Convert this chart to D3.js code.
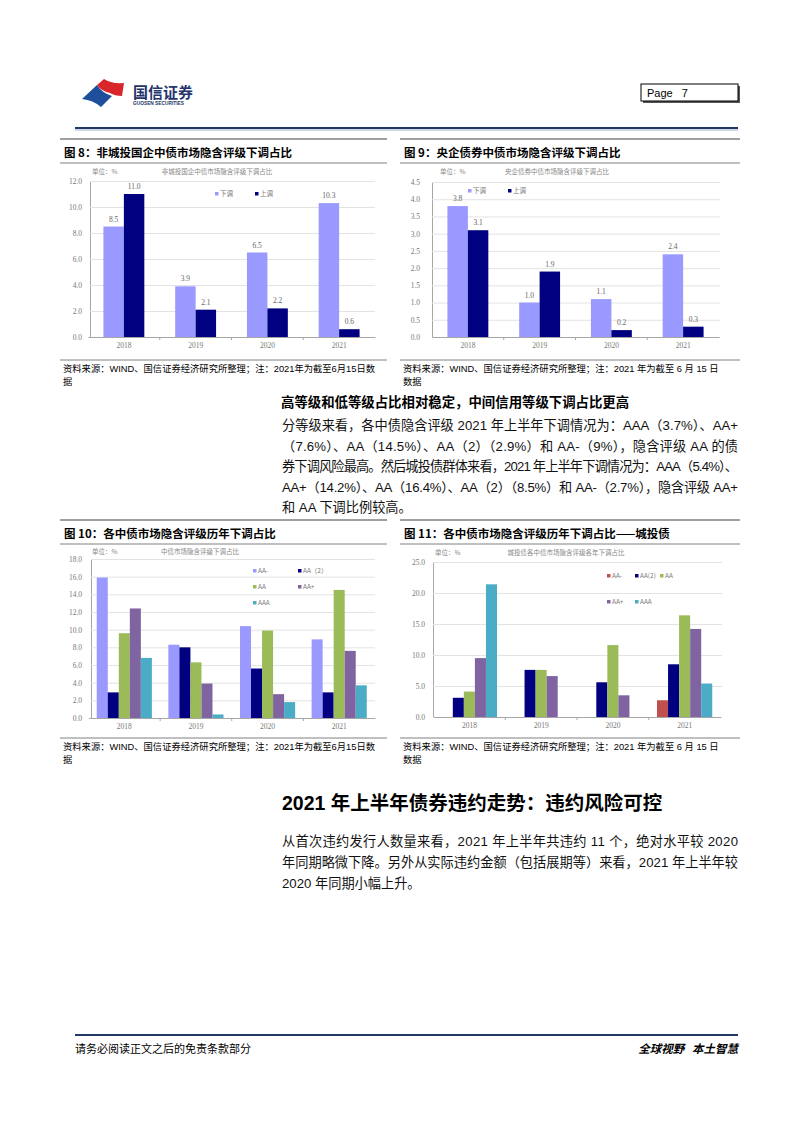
<!DOCTYPE html>
<html><head><meta charset="utf-8">
<script src="https://cdn.jsdelivr.net/npm/d3@7/dist/d3.min.js"></script>
<style>
html,body{margin:0;padding:0;background:#fff;}
svg{display:block;}
</style></head>
<body>
<svg id="page" width="802" height="1133"></svg>
<script>
// ---------------- DATA ----------------
const years = ["2018", "2019", "2020", "2021"];

// Figure 8: 非城投国企
const fig8Down = [8.5, 3.9, 6.5, 10.3];
const fig8Up = [11.0, 2.1, 2.2, 0.6];
const fig8Ticks = [0, 2, 4, 6, 8, 10, 12];

// Figure 9: 央企债券
const fig9Down = [3.8, 1.0, 1.1, 2.4];
const fig9Up = [3.1, 1.9, 0.2, 0.3];
const fig9Ticks = [0, 0.5, 1, 1.5, 2, 2.5, 3, 3.5, 4, 4.5];

const updownNames = ["下调", "上调"];

// Figure 10: 各中债市场隐含评级
const ratingNames10 = ["AA-", "AA（2）", "AA", "AA+", "AAA"];
const fig10AAminus = [15.9, 8.3, 10.4, 8.9];
const fig10AA2 = [2.9, 8.0, 5.6, 2.9];
const fig10AA = [9.6, 6.3, 9.9, 14.5];
const fig10AAplus = [12.4, 3.9, 2.7, 7.6];
const fig10AAA = [6.8, 0.4, 1.8, 3.7];
const fig10Ticks = [0, 2, 4, 6, 8, 10, 12, 14, 16, 18];

// Figure 11: 城投债
const ratingNames11 = ["AA-", "AA(2)", "AA", "AA+", "AAA"];
const fig11AAminus = [0, 0, 0, 2.7];
const fig11AA2 = [3.1, 7.6, 5.6, 8.5];
const fig11AA = [4.1, 7.6, 11.6, 16.4];
const fig11AAplus = [9.5, 6.6, 3.5, 14.2];
const fig11AAA = [21.4, 0, 0, 5.4];
const fig11Ticks = [0, 5, 10, 15, 20, 25];

// ---------------- STYLE ----------------
const CJK = "'Noto Sans CJK SC', sans-serif";
const BODY = "'Liberation Sans', 'Noto Sans CJK SC', sans-serif";
const TINY = "'Liberation Serif', 'Noto Sans CJK SC', serif";
const C = {
  light: "#9999FF", navy: "#000080", green: "#9BBB59",
  purple: "#8064A2", teal: "#4BACC6", red: "#C0504D"
};

const svg = d3.select("#page");
svg.append("rect").attr("width", 802).attr("height", 1133).attr("fill", "#fff");

// ---------------- HEADER ----------------
const hdr = svg.append("g");
hdr.append("path")
  .attr("d", "M82,99 L97,85 Q102,93 112,96 L101,107 Q93,100 82,99 Z")
  .attr("fill", "#1F4E9A");
hdr.append("path")
  .attr("d", "M97,85 L104,79 Q111,84 124,83 L122,96 Q115,96 110,93 Q101,91 97,85 Z")
  .attr("fill", "#D9262B");
hdr.append("text").attr("x", 133).attr("y", 98)
  .attr("font-family", CJK).attr("font-weight", 700).attr("font-size", 15)
  .attr("fill", "#24346B").text("国信证券");
hdr.append("text").attr("x", 133).attr("y", 105)
  .attr("font-family", BODY).attr("font-weight", 700).attr("font-size", 4.8)
  .attr("fill", "#24346B").text("GUOSEN SECURITIES");
hdr.append("rect").attr("x", 643).attr("y", 86).attr("width", 97).attr("height", 17).attr("fill", "#555");
hdr.append("rect").attr("x", 641).attr("y", 84).attr("width", 97).attr("height", 17)
  .attr("fill", "#fff").attr("stroke", "#000").attr("stroke-width", 1);
hdr.append("text").attr("x", 647).attr("y", 97).attr("font-family", BODY).attr("font-size", 11)
  .attr("fill", "#000").attr("xml:space", "preserve").text("Page   7");
hdr.append("line").attr("x1", 75).attr("x2", 738).attr("y1", 128).attr("y2", 128)
  .attr("stroke", "#1F3864").attr("stroke-width", 2.2);
hdr.append("line").attr("x1", 75).attr("x2", 738).attr("y1", 130).attr("y2", 130)
  .attr("stroke", "#8EA0C0").attr("stroke-width", 0.8);

// ---------------- PANEL FRAME ----------------
function panel(p) {
  const g = svg.append("g");
  g.append("line").attr("x1", p.x0).attr("x2", p.x1).attr("y1", p.top).attr("y2", p.top)
    .attr("stroke", "#808080").attr("stroke-width", 1.5);
  g.append("text").attr("x", p.x0 + 4).attr("y", p.top + 18)
    .attr("font-family", CJK).attr("font-weight", 700).attr("font-size", 11.5)
    .attr("fill", "#000").text(p.title);
  g.append("line").attr("x1", p.x0).attr("x2", p.x1).attr("y1", p.top + 24).attr("y2", p.top + 24)
    .attr("stroke", "#808080").attr("stroke-width", 1);
  g.append("line").attr("x1", p.x0).attr("x2", p.x1).attr("y1", p.srcY).attr("y2", p.srcY)
    .attr("stroke", "#808080").attr("stroke-width", 1);
  p.source.forEach((s, i) => {
    g.append("text").attr("x", p.x0 + 3).attr("y", p.srcY + 12 + i * 12.5)
      .attr("font-family", BODY).attr("font-size", 9.3).attr("fill", "#000").text(s);
  });
}

// ---------------- BAR CHART ----------------
function barChart(o) {
  const g = svg.append("g");
  const y = d3.scaleLinear().domain([0, o.yMax]).range([o.yBottom, o.yTop]);
  const xb = d3.scaleBand().domain(years).range([o.bandL, o.bandR]).padding(0);
  const bw = xb.bandwidth();
  const xs = d3.scaleBand().domain(d3.range(o.series.length))
    .range([bw * (1 - o.groupFrac) / 2, bw * (1 + o.groupFrac) / 2]).padding(0);

  // gridlines + y labels via axis
  const ya = g.append("g").attr("transform", `translate(${o.axisX},0)`)
    .call(d3.axisLeft(y).tickValues(o.ticks).tickFormat(d3.format(".1f"))
      .tickSize(-(o.right - o.axisX)).tickSizeOuter(0).tickPadding(o.labelPad));
  ya.select(".domain").attr("stroke", "#A6A6A6").attr("stroke-width", 1);
  ya.selectAll(".tick line").attr("stroke", "#E3E3E3").attr("stroke-width", 1);
  ya.selectAll(".tick text").attr("font-family", TINY).attr("font-size", 7.5).attr("fill", "#777");

  // bars
  o.series.forEach((s, si) => {
    g.append("g").selectAll("rect").data(s.values.map((v, i) => ({ v, yr: years[i] })))
      .join("rect")
      .attr("x", d => xb(d.yr) + xs(si))
      .attr("y", d => y(d.v))
      .attr("width", xs.bandwidth())
      .attr("height", d => o.yBottom - y(d.v))
      .attr("fill", s.color);
    if (o.valueLabels) {
      g.append("g").selectAll("text").data(s.values.map((v, i) => ({ v, yr: years[i] })))
        .join("text")
        .attr("x", d => xb(d.yr) + xs(si) + xs.bandwidth() / 2)
        .attr("y", d => y(d.v) - 5)
        .attr("text-anchor", "middle")
        .attr("font-family", TINY).attr("font-size", 7.5).attr("fill", "#666")
        .text(d => d3.format(".1f")(d.v));
    }
  });

  // x axis
  const xa = g.append("g").attr("transform", `translate(0,${o.yBottom})`)
    .call(d3.axisBottom(xb).tickSize(0).tickPadding(6));
  xa.select(".domain").attr("stroke", "#A6A6A6");
  xa.selectAll(".tick text").attr("font-family", TINY).attr("font-size", 7.5).attr("fill", "#777");
  g.append("g").selectAll("line").data(years.slice(1))
    .join("line")
    .attr("x1", d => xb(d)).attr("x2", d => xb(d))
    .attr("y1", o.yBottom).attr("y2", o.yBottom + 3)
    .attr("stroke", "#A6A6A6");

  // unit + inner title
  g.append("text").attr("x", o.unitX).attr("y", o.innerY)
    .attr("font-family", CJK).attr("font-size", 6.5).attr("fill", "#888").text("单位：%");
  g.append("text").attr("x", o.innerTitleX).attr("y", o.innerY).attr("text-anchor", "middle")
    .attr("font-family", CJK).attr("font-size", 6.5).attr("fill", "#888").text(o.innerTitle);

  // legend
  o.legend.forEach((l, i) => {
    const s = o.series[i];
    g.append("rect").attr("x", l[0]).attr("y", l[1] - 2).attr("width", 3.5).attr("height", 3.5)
      .attr("fill", s.color);
    g.append("text").attr("x", l[0] + 5).attr("y", l[1] + 2)
      .attr("font-family", CJK).attr("font-size", 6.5).attr("fill", "#777").text(s.name);
  });
}

// ---------------- FIGURE 8 ----------------
panel({ x0: 60, x1: 387, top: 139, srcY: 360,
  title: "图 8：非城投国企中债市场隐含评级下调占比",
  source: ["资料来源：WIND、国信证券经济研究所整理；注：2021年为截至6月15日数", "据"] });
barChart({
  axisX: 90, bandL: 88, bandR: 375, right: 375, yTop: 181, yBottom: 337,
  yMax: 12, ticks: fig8Ticks, labelPad: 8, groupFrac: 0.57, valueLabels: true,
  series: [{ name: updownNames[0], values: fig8Down, color: C.light },
           { name: updownNames[1], values: fig8Up, color: C.navy }],
  legend: [[215, 194], [255, 194]],
  unitX: 92, innerY: 174, innerTitleX: 217, innerTitle: "非城投国企中债市场隐含评级下调占比"
});

// ---------------- FIGURE 9 ----------------
panel({ x0: 400, x1: 740, top: 139, srcY: 360,
  title: "图 9：央企债券中债市场隐含评级下调占比",
  source: ["资料来源：WIND、国信证券经济研究所整理；注：2021 年为截至 6 月 15 日", "数据"] });
barChart({
  axisX: 432, bandL: 432, bandR: 719, right: 720, yTop: 182, yBottom: 337,
  yMax: 4.5, ticks: fig9Ticks, labelPad: 12, groupFrac: 0.57, valueLabels: true,
  series: [{ name: updownNames[0], values: fig9Down, color: C.light },
           { name: updownNames[1], values: fig9Up, color: C.navy }],
  legend: [[468, 191], [508, 191]],
  unitX: 440, innerY: 174, innerTitleX: 557, innerTitle: "央企债券中债市场隐含评级下调占比"
});

// ---------------- FIGURE 10 ----------------
panel({ x0: 60, x1: 387, top: 520, srcY: 738,
  title: "图 10：各中债市场隐含评级历年下调占比",
  source: ["资料来源：WIND、国信证券经济研究所整理；注：2021年为截至6月15日数", "据"] });
barChart({
  axisX: 91, bandL: 88.5, bandR: 375, right: 375, yTop: 559, yBottom: 718,
  yMax: 18, ticks: fig10Ticks, labelPad: 9, groupFrac: 0.77, valueLabels: false,
  series: [{ name: ratingNames10[0], values: fig10AAminus, color: C.light },
           { name: ratingNames10[1], values: fig10AA2, color: C.navy },
           { name: ratingNames10[2], values: fig10AA, color: C.green },
           { name: ratingNames10[3], values: fig10AAplus, color: C.purple },
           { name: ratingNames10[4], values: fig10AAA, color: C.teal }],
  legend: [[253, 571], [298, 571], [253, 587], [298, 587], [253, 603]],
  unitX: 92, innerY: 554, innerTitleX: 200, innerTitle: "中债市场隐含评级下调占比"
});

// ---------------- FIGURE 11 ----------------
panel({ x0: 400, x1: 740, top: 520, srcY: 738,
  title: "图 11：各中债市场隐含评级历年下调占比——城投债",
  source: ["资料来源：WIND、国信证券经济研究所整理；注：2021 年为截至 6 月 15 日", "数据"] });
barChart({
  axisX: 433, bandL: 433.5, bandR: 720.5, right: 722, yTop: 562, yBottom: 717,
  yMax: 25, ticks: fig11Ticks, labelPad: 8, groupFrac: 0.77, valueLabels: false,
  series: [{ name: ratingNames11[0], values: fig11AAminus, color: C.red },
           { name: ratingNames11[1], values: fig11AA2, color: C.navy },
           { name: ratingNames11[2], values: fig11AA, color: C.green },
           { name: ratingNames11[3], values: fig11AAplus, color: C.purple },
           { name: ratingNames11[4], values: fig11AAA, color: C.teal }],
  legend: [[607, 576], [635, 576], [660, 576], [607, 602], [635, 602]],
  unitX: 435, innerY: 555, innerTitleX: 566, innerTitle: "城投债各中债市场隐含评级各年下调占比"
});

// ---------------- TEXT ----------------
function para(lines, x, y0, lh, width, size) {
  lines.forEach((t, i) => {
    const tx = svg.append("text").attr("x", x).attr("y", y0 + i * lh)
      .attr("font-family", BODY).attr("font-size", size).attr("fill", "#111").text(t);
    if (i < lines.length - 1) tx.attr("textLength", width).attr("lengthAdjust", "spacing");
  });
}

svg.append("text").attr("x", 281).attr("y", 406.5)
  .attr("font-family", CJK).attr("font-weight", 700).attr("font-size", 13.4)
  .attr("fill", "#000").text("高等级和低等级占比相对稳定，中间信用等级下调占比更高");

para([
  "分等级来看，各中债隐含评级 2021 年上半年下调情况为：AAA（3.7%）、AA+",
  "（7.6%）、AA（14.5%）、AA（2）（2.9%）和 AA-（9%），隐含评级 AA 的债",
  "券下调风险最高。然后城投债群体来看，2021 年上半年下调情况为：AAA（5.4%）、",
  "AA+（14.2%）、AA（16.4%）、AA（2）（8.5%）和 AA-（2.7%），隐含评级 AA+",
  "和 AA 下调比例较高。"
], 282, 430, 20.5, 456, 13.2);

svg.append("text").attr("x", 282).attr("y", 810)
  .attr("font-family", "'Liberation Sans', 'Noto Sans CJK SC', sans-serif").attr("font-weight", 700).attr("font-size", 19.5)
  .attr("fill", "#000").text("2021 年上半年债券违约走势：违约风险可控");

para([
  "从首次违约发行人数量来看，2021 年上半年共违约 11 个，绝对水平较 2020",
  "年同期略微下降。另外从实际违约金额（包括展期等）来看，2021 年上半年较",
  "2020 年同期小幅上升。"
], 282, 846, 21, 456, 13.2);

// ---------------- FOOTER ----------------
svg.append("line").attr("x1", 75).attr("x2", 738).attr("y1", 1035).attr("y2", 1035)
  .attr("stroke", "#1F3864").attr("stroke-width", 2);
svg.append("text").attr("x", 75).attr("y", 1053)
  .attr("font-family", CJK).attr("font-size", 11).attr("fill", "#000").text("请务必阅读正文之后的免责条款部分");
svg.append("text").attr("x", 738).attr("y", 1053).attr("text-anchor", "end")
  .attr("font-family", CJK).attr("font-weight", 700).attr("font-style", "italic").attr("font-size", 11.5)
  .attr("fill", "#000").attr("xml:space", "preserve").text("全球视野   本土智慧");
</script>
</body></html>
